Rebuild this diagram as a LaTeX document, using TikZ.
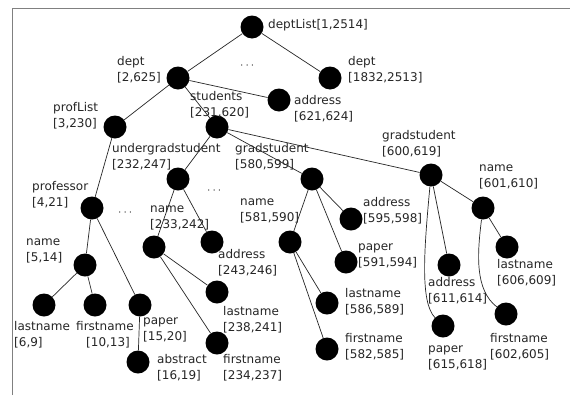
\documentclass[tikz,border=0pt]{standalone}
\usepackage{fontspec}
\newfontfamily\lblfamily{DejaVu Sans}
\begin{document}
\begin{tikzpicture}[x=1pt,y=-1pt,
  dot/.style={circle,fill=black,minimum size=23pt,inner sep=0pt},
  lbl/.style={font=\lblfamily\fontsize{12}{16}\selectfont,text=black!85,align=left,anchor=west,inner sep=0pt},
  edge/.style={line width=0.7pt,black!85},
  frame/.style={line width=1.3pt,black!50}]
\useasboundingbox (0,0) rectangle (570,402);
\fill[white] (0,0) rectangle (570,402);
\draw[frame] (12.5,395) -- (12.5,8.5) -- (570,8.5);
% nodes
\node[dot] (root) at (252,27) {};
\node[dot] (d2) at (178,78) {};
\node[dot] (d1832) at (330,78) {};
\node[dot] (a621) at (279,100) {};
\node[dot] (pl) at (115,127) {};
\node[dot] (st) at (217,127) {};
\node[dot] (ug) at (178,179) {};
\node[dot] (g580) at (312,179) {};
\node[dot] (g600) at (431,175) {};
\node[dot] (prof) at (92,208) {};
\node[dot] (n233) at (154,247) {};
\node[dot] (a243) at (212,242) {};
\node[dot] (n581) at (290,242) {};
\node[dot] (a595) at (351,219) {};
\node[dot] (n601) at (483,208) {};
\node[dot] (n5) at (85,265) {};
\node[dot] (p591) at (346,262) {};
\node[dot] (l606) at (507,247) {};
\node[dot] (a611) at (449,265) {};
\node[dot] (l586) at (327,303) {};
\node[dot] (f582) at (327,349) {};
\node[dot] (p615) at (443,326) {};
\node[dot] (f602) at (506,314) {};
\node[dot] (l6) at (44,305) {};
\node[dot] (f10) at (95,305) {};
\node[dot] (p15) at (140,305) {};
\node[dot] (ab16) at (138,362) {};
\node[dot] (l238) at (217,292) {};
\node[dot] (f234) at (217,343) {};
% edges
\draw[edge] (root) -- (d2);
\draw[edge] (root) -- (d1832);
\draw[edge] (d2) -- (pl);
\draw[edge] (d2) -- (st);
\draw[edge] (d2) -- (a621);
\draw[edge] (pl) -- (prof);
\draw[edge] (prof) -- (n5);
\draw[edge] (prof) -- (p15);
\draw[edge] (n5) -- (l6);
\draw[edge] (n5) -- (f10);
\draw[edge] (p15) -- (ab16);
\draw[edge] (st) -- (ug);
\draw[edge] (st) -- (g580);
\draw[edge] (st) -- (g600);
\draw[edge] (ug) -- (n233);
\draw[edge] (ug) -- (a243);
\draw[edge] (n233) -- (l238);
\draw[edge] (n233) -- (f234);
\draw[edge] (g580) -- (n581);
\draw[edge] (g580) -- (a595);
\draw[edge] (g580) -- (p591);
\draw[edge] (n581) -- (l586);
\draw[edge] (n581) -- (f582);
\draw[edge] (g600) -- (n601);
\draw[edge] (g600) -- (a611);
\draw[edge] (g600) .. controls (424,250) and (420,302) .. (p615);
\draw[edge] (n601) -- (l606);
\draw[edge] (n601) .. controls (477,255) and (475,290) .. (f602);
% dots
\node[lbl] (e1) at (240,66) {$\cdots$};
\node[lbl] (e2) at (118,213) {$\cdots$};
\node[lbl] (e3) at (207,191) {$\cdots$};
% labels
\node[lbl] (t1) at (268,25) {deptList[1,2514]};
\node[lbl] (t2) at (117,69.5) {dept\\{}[2,625]};
\node[lbl] (t3) at (348,70) {dept\\{}[1832,2513]};
\node[lbl] (t4) at (294,109) {address\\{}[621,624]};
\node[lbl] (t5) at (53,115.5) {profList\\{}[3,230]};
\node[lbl] (t6) at (190,105) {students\\{}[231,620]};
\node[lbl] (t7) at (112,157) {undergradstudent\\{}[232,247]};
\node[lbl] (t8) at (235,157) {gradstudent\\{}[580,599]};
\node[lbl] (t9) at (382,144) {gradstudent\\{}[600,619]};
\node[lbl] (t10) at (32,195) {professor\\{}[4,21]};
\node[lbl] (t11) at (150,218) {name\\{}[233,242]};
\node[lbl] (t12) at (240,211) {name\\{}[581,590]};
\node[lbl] (t13) at (363,211) {address\\{}[595,598]};
\node[lbl] (t14) at (479,177) {name\\{}[601,610]};
\node[lbl] (t15) at (26,251) {name\\{}[5,14]};
\node[lbl] (t16) at (218,263) {address\\{}[243,246]};
\node[lbl] (t17) at (358,256) {paper\\{}[591,594]};
\node[lbl] (t18) at (497,273) {lastname\\{}[606,609]};
\node[lbl] (t19) at (428,291) {address\\{}[611,614]};
\node[lbl] (t20) at (345,302) {lastname\\{}[586,589]};
\node[lbl] (t21) at (345,347) {firstname\\{}[582,585]};
\node[lbl] (t22) at (428,358) {paper\\{}[615,618]};
\node[lbl] (t23) at (490,347) {firstname\\{}[602,605]};
\node[lbl] (t24) at (14,335) {lastname\\{}[6,9]};
\node[lbl] (t25) at (76,335) {firstname\\\hspace*{10pt}[10,13]};
\node[lbl] (t26) at (143,330) {paper\\{}[15,20]};
\node[lbl] (t27) at (157,368) {abstract\\{}[16,19]};
\node[lbl] (t28) at (223,320) {lastname\\{}[238,241]};
\node[lbl] (t29) at (223,368) {firstname\\{}[234,237]};
\end{tikzpicture}
\end{document}
